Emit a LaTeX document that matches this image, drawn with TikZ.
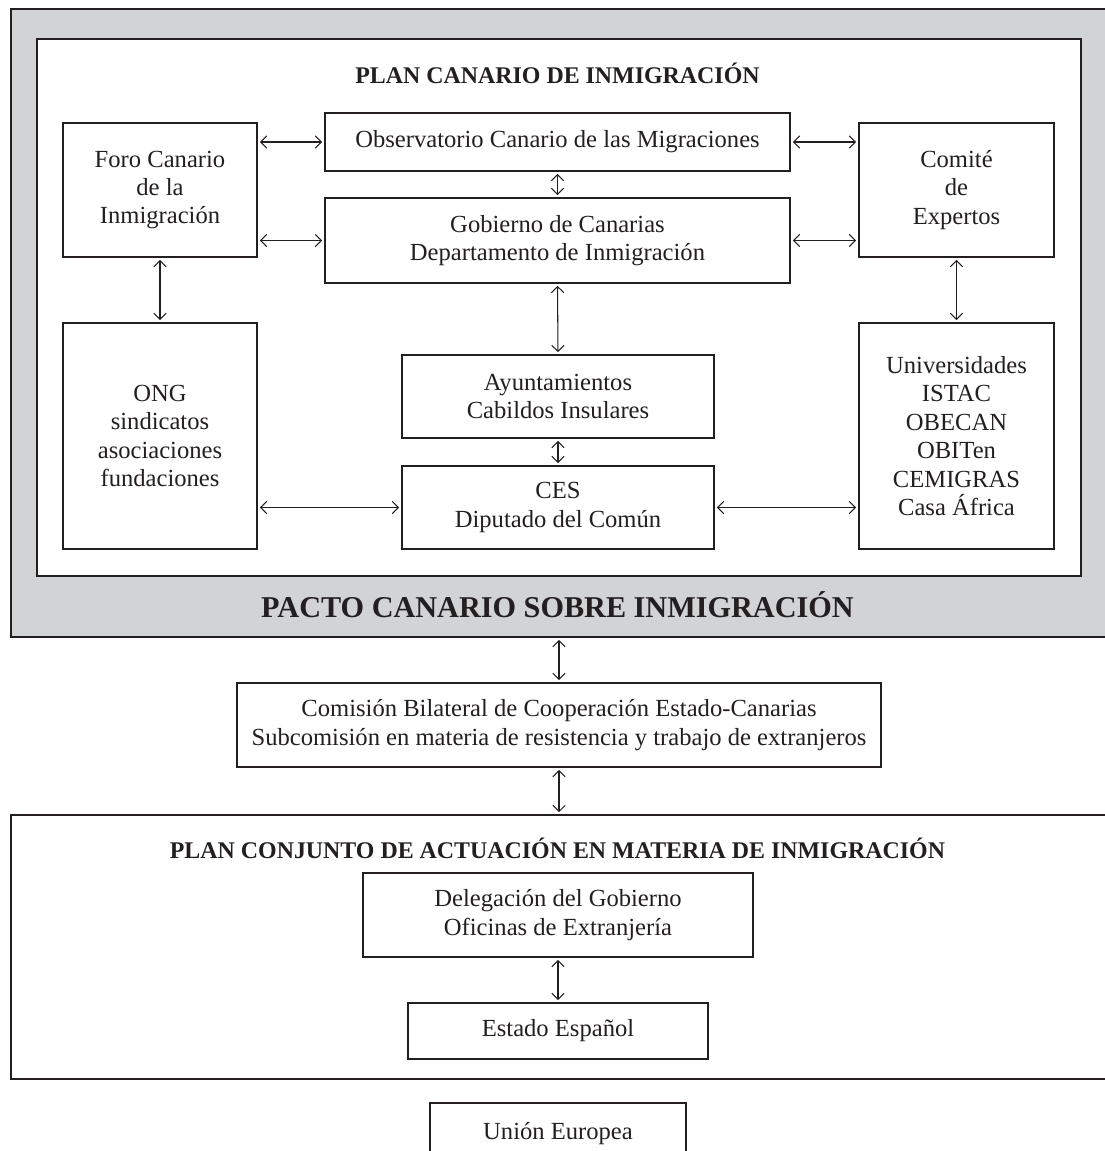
\documentclass[tikz,border=0pt]{standalone}
\usepackage{fontspec}
\setmainfont{Liberation Serif}
\usepackage{tikz}
\usetikzlibrary{arrows.meta,calc}
\usepackage{xcolor}
\definecolor{ink}{HTML}{231F20}
\definecolor{panel}{HTML}{D1D3D4}
\tikzset{
  box/.style={draw=ink, fill=white, line width=1.2pt, align=center, text=ink,
              font=\fontsize{14}{16.2}\selectfont, inner sep=2pt},
  frame/.style={draw=ink, line width=1.2pt, inner sep=0pt, anchor=north west},
  ar/.style={{Straight Barb[length=3.5pt,width=7pt]}-{Straight Barb[length=3.5pt,width=7pt]},
             line width=0.6pt, draw=ink, shorten >=1pt, shorten <=1pt},
  ttl/.style={font=\bfseries\fontsize{13.6}{16}\selectfont, text=ink},
  bigttl/.style={font=\bfseries\fontsize{17.2}{20}\selectfont, text=ink}
}

\begin{document}
\begin{tikzpicture}[x=1cm,y=1cm]
  \useasboundingbox (0,0) rectangle (22.1,23.02);

  % frames
  \node[frame, fill=panel, minimum width=22.6cm, minimum height=12.56cm] (pacto) at (0.2,22.86) {};
  \node[frame, fill=white, minimum width=20.88cm, minimum height=10.74cm] (plan) at (0.72,22.26) {};
  \node[frame, fill=white, minimum width=22.6cm, minimum height=5.28cm] (conjunto) at (0.2,6.74) {};

  \node[ttl] (plantitle) at (11.15,21.56) {PLAN CANARIO DE INMIGRACIÓN};
  \node[bigttl] (pactotitle) at (11.15,10.92) {PACTO CANARIO SOBRE INMIGRACIÓN};
  \node[ttl] (conjtitle) at (11.15,6.06) {PLAN CONJUNTO DE ACTUACIÓN EN MATERIA DE INMIGRACIÓN};

  \node[box, minimum width=3.88cm, minimum height=2.68cm] (foro) at (3.2,19.22)
     {Foro Canario\\de la\\Inmigración};
  \node[box, minimum width=9.3cm, minimum height=1.16cm] (obs) at (11.15,20.18)
     {Observatorio Canario de las Migraciones};
  \node[box, minimum width=9.3cm, minimum height=1.7cm] (gob) at (11.15,18.21)
     {Gobierno de Canarias\\Departamento de Inmigración};
  \node[box, minimum width=3.9cm, minimum height=2.68cm] (comite) at (19.13,19.22)
     {Comité\\de\\Expertos};
  \node[box, minimum width=3.88cm, minimum height=4.52cm] (ong) at (3.2,14.30)
     {ONG\\sindicatos\\asociaciones\\fundaciones};
  \node[box, minimum width=6.24cm, minimum height=1.66cm] (ayunt) at (11.16,15.09)
     {Ayuntamientos\\Cabildos Insulares};
  \node[box, minimum width=6.24cm, minimum height=1.66cm] (ces) at (11.16,12.87)
     {CES\\Diputado del Común};
  \node[box, minimum width=3.9cm, minimum height=4.52cm] (univ) at (19.13,14.30)
     {Universidades\\ISTAC\\OBECAN\\OBITen\\CEMIGRAS\\Casa África};

  \node[box, minimum width=12.88cm, minimum height=1.68cm] (comision) at (11.18,8.52)
     {Comisión Bilateral de Cooperación Estado-Canarias\\Subcomisión en materia de resistencia y trabajo de extranjeros};

  \node[box, minimum width=7.8cm, minimum height=1.68cm] (deleg) at (11.16,4.72)
     {Delegación del Gobierno\\Oficinas de Extranjería};
  \node[box, minimum width=6.0cm, minimum height=1.12cm] (estado) at (11.16,2.40)
     {Estado Español};
  \node[box, minimum width=5.12cm, minimum height=1.24cm] (union) at (11.16,0.34)
     {Unión Europea};

  \draw[ar] (foro.east |- obs.west) -- (obs.west);
  \draw[ar] (foro.east |- gob.west) -- (gob.west);
  \draw[ar] (obs.east) -- (comite.west |- obs.east);
  \draw[ar] (gob.east) -- (comite.west |- gob.east);
  \draw[ar] (obs.south) -- (gob.north);
  \draw[ar] (foro.south) -- (ong.north);
  \draw[ar] (comite.south) -- (univ.north);
  \draw[ar] (gob.south) -- (ayunt.north);
  \draw[ar] (ayunt.south) -- (ces.north);
  \draw[ar] (ong.east |- ces.west) -- (ces.west);
  \draw[ar] (ces.east) -- (univ.west |- ces.east);
  \draw[ar] (comision.north |- pacto.south) -- (comision.north);
  \draw[ar] (comision.south) -- (comision.south |- conjunto.north);
  \draw[ar] (deleg.south) -- (estado.north);
\end{tikzpicture}
\end{document}
